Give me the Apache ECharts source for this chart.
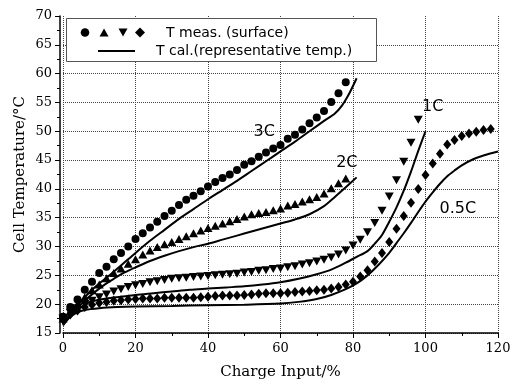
<!DOCTYPE html>
<html>
<head>
<meta charset="utf-8">
<script src="https://cdn.jsdelivr.net/npm/echarts@6/dist/echarts.min.js"></script>
<style>html,body{margin:0;padding:0;background:#fff;}#c{width:516px;height:387px;}</style>
</head>
<body>
<div id="c"></div>
<script>
// Measured surface temperatures (charge input %, °C)
const meas3C = [[0,17.8],[2,19.5],[4,20.8],[6,22.5],[8,23.9],[10,25.4],[12,26.5],[14,27.8],[16,28.9],[18,30.0],[20,31.3],[22,32.3],[24,33.3],[26,34.3],[28,35.3],[30,36.2],[32,37.2],[34,38.1],[36,38.8],[38,39.6],[40,40.4],[42,41.2],[44,41.9],[46,42.5],[48,43.3],[50,44.2],[52,44.8],[54,45.6],[56,46.3],[58,47.0],[60,47.6],[62,48.7],[64,49.4],[66,50.3],[68,51.4],[70,52.4],[72,53.5],[74,55.1],[76,56.6],[78,58.5]];
const meas2C = [[0,17.5],[2,18.8],[4,20.0],[6,21.2],[8,22.4],[10,23.4],[12,24.5],[14,25.4],[16,26.2],[18,27.0],[20,27.8],[22,28.6],[24,29.3],[26,29.9],[28,30.4],[30,30.8],[32,31.3],[34,31.8],[36,32.3],[38,32.8],[40,33.2],[42,33.6],[44,34.0],[46,34.4],[48,34.8],[50,35.2],[52,35.6],[54,35.8],[56,36.0],[58,36.3],[60,36.6],[62,37.1],[64,37.4],[66,37.8],[68,38.2],[70,38.6],[72,39.2],[74,40.1],[76,41.0],[78,41.8]];
const meas1C = [[0,17.5],[2,18.5],[4,19.3],[6,20.0],[8,20.6],[10,21.2],[12,21.7],[14,22.2],[16,22.6],[18,23.0],[20,23.3],[22,23.5],[24,23.8],[26,24.0],[28,24.2],[30,24.4],[32,24.5],[34,24.6],[36,24.7],[38,24.8],[40,24.9],[42,25.0],[44,25.1],[46,25.2],[48,25.3],[50,25.5],[52,25.6],[54,25.8],[56,25.9],[58,26.1],[60,26.2],[62,26.4],[64,26.6],[66,26.9],[68,27.1],[70,27.4],[72,27.7],[74,28.1],[76,28.6],[78,29.3],[80,30.2],[82,31.2],[84,32.5],[86,34.1],[88,36.2],[90,38.7],[92,41.5],[94,44.7],[96,48.0],[98,52.0]];
const meas05C = [[0,17.3],[2,18.2],[4,18.9],[6,19.5],[8,19.9],[10,20.2],[12,20.4],[14,20.6],[16,20.7],[18,20.8],[20,20.9],[22,21.0],[24,21.0],[26,21.0],[28,21.1],[30,21.1],[32,21.1],[34,21.1],[36,21.1],[38,21.2],[40,21.3],[42,21.4],[44,21.5],[46,21.5],[48,21.5],[50,21.6],[52,21.7],[54,21.8],[56,21.9],[58,21.9],[60,21.9],[62,22.0],[64,22.1],[66,22.2],[68,22.3],[70,22.4],[72,22.5],[74,22.7],[76,23.0],[78,23.4],[80,23.9],[82,24.8],[84,25.9],[86,27.4],[88,28.9],[90,30.8],[92,33.1],[94,35.3],[96,37.6],[98,40.0],[100,42.4],[102,44.4],[104,46.1],[106,47.7],[108,48.5],[110,49.2],[112,49.6],[114,49.9],[116,50.2],[118,50.4]];
// Calculated representative temperatures
const cal3C = [[0,16.5],[2,18.3],[4,19.8],[6,21.2],[8,22.5],[10,23.6],[13,25.1],[16,26.7],[20,28.9],[24,31.0],[28,32.9],[32,34.8],[36,36.5],[40,38.2],[44,39.8],[48,41.4],[52,43.1],[56,44.8],[60,46.5],[64,48.2],[68,50.0],[72,51.8],[75,53.1],[77,54.5],[79,56.6],[81,59.2]];
const cal2C = [[0,16.5],[2,18.0],[4,19.4],[6,20.6],[8,21.7],[10,22.7],[12,23.6],[14,24.4],[17,25.5],[20,26.4],[24,27.5],[28,28.4],[32,29.2],[36,29.9],[40,30.5],[44,31.2],[48,31.9],[52,32.6],[56,33.3],[60,34.0],[64,34.7],[68,35.6],[72,37.0],[75,38.6],[78,40.3],[81,42.0]];
const cal1C = [[0,16.5],[2,18.0],[4,19.0],[6,19.9],[8,20.5],[12,21.0],[16,21.3],[20,21.6],[25,21.9],[30,22.2],[35,22.5],[40,22.7],[45,22.9],[50,23.1],[55,23.4],[60,23.8],[65,24.4],[70,25.2],[74,26.0],[78,27.2],[81,28.2],[84,29.2],[86,30.5],[88,32.0],[90,34.3],[92,36.8],[94,39.7],[96,43.0],[98,46.6],[100,50.0]];
const cal05C = [[0,16.3],[2,17.8],[4,18.6],[6,19.0],[10,19.3],[15,19.5],[20,19.6],[30,19.7],[40,19.8],[50,19.9],[60,20.1],[65,20.4],[70,20.9],[74,21.6],[78,22.6],[81,23.6],[84,25.0],[87,26.8],[90,28.9],[92,30.6],[94,32.3],[96,34.1],[98,36.0],[100,37.8],[102,39.4],[104,40.9],[106,42.2],[108,43.2],[110,44.1],[113,45.1],[116,45.8],[120,46.5]];
// Rate annotations (text, data x, data y)
const rateLabels = [['3C',55.5,49.9],['2C',78.3,44.5],['1C',102.0,54.3],['0.5C',108.9,36.5]];
const xTitle = 'Charge Input/%';
const yTitle = 'Cell Temperature/°C';
const legendMeas = 'T meas. (surface)';
const legendCal = 'T cal.(representative temp.)';

const chart = echarts.init(document.getElementById('c'), null, {renderer:'canvas'});
const serif = 'DejaVu Serif';
const sans = 'DejaVu Sans';
function scat(data, symbol, size, rot){
  return {type:'scatter', data, symbol, symbolSize:size, symbolRotate:rot||0,
    itemStyle:{color:'#000', opacity:1, borderWidth:0}, silent:true, z:3, large:false};
}
function line(data){
  return {type:'line', data, smooth:0.3, showSymbol:false, symbol:'none',
    lineStyle:{color:'#000', width:2}, silent:true, z:4};
}
const option = {
  animation:false,
  backgroundColor:'#fff',
  grid:{left:63, right:18, top:16, bottom:54, containLabel:false},
  xAxis:{type:'value', min:0, max:120, interval:20,
    name:xTitle, nameLocation:'middle', nameGap:32, nameMoveOverlap:false,
    nameTextStyle:{fontFamily:serif, fontSize:15, color:'#000'},
    axisLine:{show:true, onZero:false, lineStyle:{color:'#000', width:1.5}},
    axisTick:{show:true, inside:false, length:5, lineStyle:{color:'#000'}},
    minorTick:{show:true, splitNumber:2, length:3, lineStyle:{color:'#000'}},
    axisLabel:{fontFamily:serif, fontSize:13, color:'#000', margin:9},
    splitLine:{show:true, lineStyle:{color:'#444', type:'dotted', width:1}}
  },
  yAxis:{type:'value', min:15, max:70, interval:5, offset:3,
    name:yTitle, nameLocation:'middle', nameGap:32, nameMoveOverlap:false,
    nameTextStyle:{fontFamily:serif, fontSize:15, color:'#000'},
    axisLine:{show:true, onZero:false, lineStyle:{color:'#000', width:1.5}},
    axisTick:{show:true, inside:false, length:5, lineStyle:{color:'#000'}},
    minorTick:{show:true, splitNumber:2, length:3, lineStyle:{color:'#000'}},
    axisLabel:{fontFamily:serif, fontSize:13, color:'#000', margin:8},
    splitLine:{show:true, showMaxLine:false, lineStyle:{color:'#444', type:'dotted', width:1}}
  },
  series:[
    scat(meas3C,'circle',8),
    scat(meas2C,'triangle',[9,8]),
    scat(meas1C,'triangle',[9,8],180),
    scat(meas05C,'diamond',[8,10]),
    line(cal3C), line(cal2C), line(cal1C), line(cal05C)
  ]
};
chart.setOption(option);

const g = [];
rateLabels.forEach(function(r){
  const p = chart.convertToPixel({gridIndex:0},[r[1],r[2]]);
  g.push({type:'text', x:p[0], y:p[1], z:20,
    style:{text:r[0], fill:'#000', font:'16px "'+sans+'"', align:'center', verticalAlign:'middle'}});
});
// legend box
g.push({type:'rect', shape:{x:66.5,y:18.5,width:310,height:43}, z:30,
  style:{fill:'#fff', stroke:'#555', lineWidth:1}});
g.push({type:'circle', shape:{cx:85,cy:32.5,r:4.3}, z:31, style:{fill:'#000'}});
g.push({type:'polygon', shape:{points:[[99.5,36.5],[108.5,36.5],[104,28.5]]}, z:31, style:{fill:'#000'}});
g.push({type:'polygon', shape:{points:[[118.5,28.5],[127.5,28.5],[123,36.5]]}, z:31, style:{fill:'#000'}});
g.push({type:'polygon', shape:{points:[[140,27.5],[145,32.5],[140,37.5],[135,32.5]]}, z:31, style:{fill:'#000'}});
g.push({type:'text', x:166, y:33, z:31, style:{text:legendMeas, fill:'#000', font:'14px "'+sans+'"', verticalAlign:'middle'}});
g.push({type:'line', shape:{x1:98,y1:51,x2:135,y2:51}, z:31, style:{stroke:'#000', lineWidth:2}});
g.push({type:'text', x:156, y:51.5, z:31, style:{text:legendCal, fill:'#000', font:'14px "'+sans+'"', verticalAlign:'middle'}});
chart.setOption({graphic:g});
</script>
</body>
</html>
